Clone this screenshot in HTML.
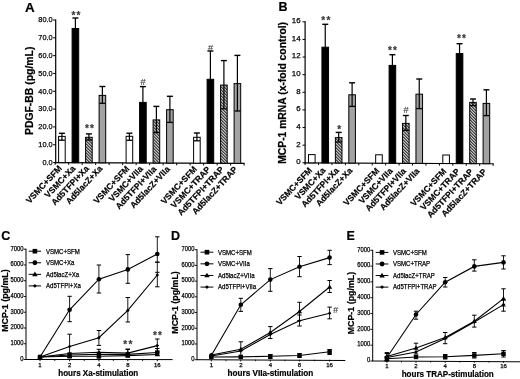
<!DOCTYPE html><html><head><meta charset="utf-8"><style>
html,body{margin:0;padding:0;background:#fff;width:520px;height:379px;overflow:hidden}
svg{display:block;font-family:"Liberation Sans", sans-serif;filter:blur(0.3px)}
text{stroke:#000;stroke-width:0.25px}
text[font-weight=bold]{stroke-width:0.2px}
</style></head><body>
<svg width="520" height="379" viewBox="0 0 520 379">
<defs>
<pattern id="hatch" patternUnits="userSpaceOnUse" width="2.12132" height="2.12132" patternTransform="rotate(45)">
<rect width="2.12132" height="2.12132" fill="#fff"/><rect x="0" y="0" width="2.12132" height="1.05" fill="#000"/>
</pattern>
</defs>
<rect width="520" height="379" fill="#fff"/>
<line x1="55.70" y1="19.40" x2="55.70" y2="163.20" stroke="#000" stroke-width="1.2"/>
<line x1="55.10" y1="162.60" x2="244.65" y2="163.36" stroke="#000" stroke-width="1.2"/>
<line x1="55.15" y1="162.60" x2="55.15" y2="164.80" stroke="#000" stroke-width="1"/>
<line x1="68.65" y1="162.65" x2="68.65" y2="164.85" stroke="#000" stroke-width="1"/>
<line x1="82.15" y1="162.71" x2="82.15" y2="164.91" stroke="#000" stroke-width="1"/>
<line x1="95.65" y1="162.76" x2="95.65" y2="164.96" stroke="#000" stroke-width="1"/>
<line x1="109.15" y1="162.82" x2="109.15" y2="165.02" stroke="#000" stroke-width="1"/>
<line x1="122.65" y1="162.87" x2="122.65" y2="165.07" stroke="#000" stroke-width="1"/>
<line x1="136.15" y1="162.92" x2="136.15" y2="165.12" stroke="#000" stroke-width="1"/>
<line x1="149.65" y1="162.98" x2="149.65" y2="165.18" stroke="#000" stroke-width="1"/>
<line x1="163.15" y1="163.03" x2="163.15" y2="165.23" stroke="#000" stroke-width="1"/>
<line x1="176.65" y1="163.09" x2="176.65" y2="165.29" stroke="#000" stroke-width="1"/>
<line x1="190.15" y1="163.14" x2="190.15" y2="165.34" stroke="#000" stroke-width="1"/>
<line x1="203.65" y1="163.19" x2="203.65" y2="165.39" stroke="#000" stroke-width="1"/>
<line x1="217.15" y1="163.25" x2="217.15" y2="165.45" stroke="#000" stroke-width="1"/>
<line x1="230.65" y1="163.30" x2="230.65" y2="165.50" stroke="#000" stroke-width="1"/>
<line x1="244.15" y1="163.36" x2="244.15" y2="165.56" stroke="#000" stroke-width="1"/>
<line x1="53.10" y1="162.60" x2="55.70" y2="162.60" stroke="#000" stroke-width="1"/>
<text x="52.60" y="164.95" font-size="8.0" text-anchor="end" textLength="10.21" lengthAdjust="spacingAndGlyphs">0.0</text>
<line x1="53.10" y1="144.78" x2="55.70" y2="144.78" stroke="#000" stroke-width="1"/>
<text x="52.60" y="147.12" font-size="8.0" text-anchor="end" textLength="14.30" lengthAdjust="spacingAndGlyphs">10.0</text>
<line x1="53.10" y1="126.95" x2="55.70" y2="126.95" stroke="#000" stroke-width="1"/>
<text x="52.60" y="129.30" font-size="8.0" text-anchor="end" textLength="14.30" lengthAdjust="spacingAndGlyphs">20.0</text>
<line x1="53.10" y1="109.12" x2="55.70" y2="109.12" stroke="#000" stroke-width="1"/>
<text x="52.60" y="111.47" font-size="8.0" text-anchor="end" textLength="14.30" lengthAdjust="spacingAndGlyphs">30.0</text>
<line x1="53.10" y1="91.30" x2="55.70" y2="91.30" stroke="#000" stroke-width="1"/>
<text x="52.60" y="93.65" font-size="8.0" text-anchor="end" textLength="14.30" lengthAdjust="spacingAndGlyphs">40.0</text>
<line x1="53.10" y1="73.47" x2="55.70" y2="73.47" stroke="#000" stroke-width="1"/>
<text x="52.60" y="75.82" font-size="8.0" text-anchor="end" textLength="14.30" lengthAdjust="spacingAndGlyphs">50.0</text>
<line x1="53.10" y1="55.65" x2="55.70" y2="55.65" stroke="#000" stroke-width="1"/>
<text x="52.60" y="58.00" font-size="8.0" text-anchor="end" textLength="14.30" lengthAdjust="spacingAndGlyphs">60.0</text>
<line x1="53.10" y1="37.83" x2="55.70" y2="37.83" stroke="#000" stroke-width="1"/>
<text x="52.60" y="40.18" font-size="8.0" text-anchor="end" textLength="14.30" lengthAdjust="spacingAndGlyphs">70.0</text>
<line x1="53.10" y1="20.00" x2="55.70" y2="20.00" stroke="#000" stroke-width="1"/>
<text x="52.60" y="22.35" font-size="8.0" text-anchor="end" textLength="14.30" lengthAdjust="spacingAndGlyphs">80.0</text>
<rect x="58.60" y="136.40" width="6.60" height="26.23" fill="#fff" stroke="#000" stroke-width="1"/>
<line x1="61.90" y1="133.30" x2="61.90" y2="140.20" stroke="#000" stroke-width="1.2"/>
<line x1="58.90" y1="133.30" x2="64.90" y2="133.30" stroke="#000" stroke-width="1.4"/>
<line x1="58.90" y1="140.20" x2="64.90" y2="140.20" stroke="#000" stroke-width="1.3"/>
<text transform="translate(62.40,168.82) rotate(-47)" font-size="8.6" text-anchor="end" font-weight="bold">VSMC+SFM</text>
<rect x="72.10" y="28.50" width="6.60" height="134.18" fill="#000" stroke="#000" stroke-width="1"/>
<line x1="75.40" y1="18.00" x2="75.40" y2="38.40" stroke="#000" stroke-width="1.2"/>
<line x1="72.40" y1="18.00" x2="78.40" y2="18.00" stroke="#000" stroke-width="1.4"/>
<line x1="72.40" y1="38.40" x2="78.40" y2="38.40" stroke="#000" stroke-width="1.3"/>
<text x="73.45" y="18.60" font-size="10" font-weight="bold" text-anchor="middle" fill="#3a3a3a" style="stroke:#3a3a3a;stroke-width:0.2px">*</text>
<text x="78.55" y="18.60" font-size="10" font-weight="bold" text-anchor="middle" fill="#3a3a3a" style="stroke:#3a3a3a;stroke-width:0.2px">*</text>
<text transform="translate(75.90,168.90) rotate(-47)" font-size="8.6" text-anchor="end" font-weight="bold">VSMC+Xa</text>
<rect x="85.60" y="137.30" width="6.60" height="25.43" fill="url(#hatch)" stroke="#000" stroke-width="1"/>
<line x1="88.90" y1="133.90" x2="88.90" y2="140.00" stroke="#000" stroke-width="1.2"/>
<line x1="85.90" y1="133.90" x2="91.90" y2="133.90" stroke="#000" stroke-width="1.4"/>
<line x1="85.90" y1="140.00" x2="91.90" y2="140.00" stroke="#000" stroke-width="1.3"/>
<text x="86.95" y="132.40" font-size="10" font-weight="bold" text-anchor="middle" fill="#3a3a3a" style="stroke:#3a3a3a;stroke-width:0.2px">*</text>
<text x="92.05" y="132.40" font-size="10" font-weight="bold" text-anchor="middle" fill="#3a3a3a" style="stroke:#3a3a3a;stroke-width:0.2px">*</text>
<text transform="translate(89.40,168.98) rotate(-47)" font-size="8.6" text-anchor="end" font-weight="bold">Ad5TFPI+Xa</text>
<rect x="99.10" y="95.40" width="6.60" height="67.39" fill="#a3a3a3" stroke="#000" stroke-width="1"/>
<line x1="102.40" y1="86.50" x2="102.40" y2="103.30" stroke="#000" stroke-width="1.2"/>
<line x1="99.40" y1="86.50" x2="105.40" y2="86.50" stroke="#000" stroke-width="1.4"/>
<line x1="99.40" y1="103.30" x2="105.40" y2="103.30" stroke="#000" stroke-width="1.3"/>
<text transform="translate(102.90,169.06) rotate(-47)" font-size="8.6" text-anchor="end" font-weight="bold">Ad5lacZ+Xa</text>
<rect x="126.10" y="136.30" width="6.60" height="26.60" fill="#fff" stroke="#000" stroke-width="1"/>
<line x1="129.40" y1="133.20" x2="129.40" y2="140.30" stroke="#000" stroke-width="1.2"/>
<line x1="126.40" y1="133.20" x2="132.40" y2="133.20" stroke="#000" stroke-width="1.4"/>
<line x1="126.40" y1="140.30" x2="132.40" y2="140.30" stroke="#000" stroke-width="1.3"/>
<text transform="translate(129.90,169.23) rotate(-47)" font-size="8.6" text-anchor="end" font-weight="bold">VSMC+SFM</text>
<rect x="139.60" y="102.40" width="6.60" height="60.55" fill="#000" stroke="#000" stroke-width="1"/>
<line x1="142.90" y1="86.60" x2="142.90" y2="117.40" stroke="#000" stroke-width="1.2"/>
<line x1="139.90" y1="86.60" x2="145.90" y2="86.60" stroke="#000" stroke-width="1.4"/>
<line x1="139.90" y1="117.40" x2="145.90" y2="117.40" stroke="#000" stroke-width="1.3"/>
<text x="142.90" y="85.20" font-size="9.5" text-anchor="middle" fill="#444" font-style="italic" style="stroke:#444;stroke-width:0.15px">#</text>
<text transform="translate(143.40,169.31) rotate(-47)" font-size="8.6" text-anchor="end" font-weight="bold">VSMC+VIIa</text>
<rect x="153.10" y="119.90" width="6.60" height="43.10" fill="url(#hatch)" stroke="#000" stroke-width="1"/>
<line x1="156.40" y1="106.40" x2="156.40" y2="132.60" stroke="#000" stroke-width="1.2"/>
<line x1="153.40" y1="106.40" x2="159.40" y2="106.40" stroke="#000" stroke-width="1.4"/>
<line x1="153.40" y1="132.60" x2="159.40" y2="132.60" stroke="#000" stroke-width="1.3"/>
<text transform="translate(156.90,169.39) rotate(-47)" font-size="8.6" text-anchor="end" font-weight="bold">Ad5TFPI+VIIa</text>
<rect x="166.60" y="109.70" width="6.60" height="53.36" fill="#a3a3a3" stroke="#000" stroke-width="1"/>
<line x1="169.90" y1="96.30" x2="169.90" y2="122.40" stroke="#000" stroke-width="1.2"/>
<line x1="166.90" y1="96.30" x2="172.90" y2="96.30" stroke="#000" stroke-width="1.4"/>
<line x1="166.90" y1="122.40" x2="172.90" y2="122.40" stroke="#000" stroke-width="1.3"/>
<text transform="translate(170.40,169.47) rotate(-47)" font-size="8.6" text-anchor="end" font-weight="bold">Ad5lacZ+VIIa</text>
<rect x="193.60" y="137.30" width="6.60" height="25.87" fill="#fff" stroke="#000" stroke-width="1"/>
<line x1="196.90" y1="133.00" x2="196.90" y2="140.80" stroke="#000" stroke-width="1.2"/>
<line x1="193.90" y1="133.00" x2="199.90" y2="133.00" stroke="#000" stroke-width="1.4"/>
<line x1="193.90" y1="140.80" x2="199.90" y2="140.80" stroke="#000" stroke-width="1.3"/>
<text transform="translate(197.40,169.63) rotate(-47)" font-size="8.6" text-anchor="end" font-weight="bold">VSMC+SFM</text>
<rect x="207.10" y="79.30" width="6.60" height="83.92" fill="#000" stroke="#000" stroke-width="1"/>
<line x1="210.40" y1="51.00" x2="210.40" y2="106.70" stroke="#000" stroke-width="1.2"/>
<line x1="207.40" y1="51.00" x2="213.40" y2="51.00" stroke="#000" stroke-width="1.4"/>
<line x1="207.40" y1="106.70" x2="213.40" y2="106.70" stroke="#000" stroke-width="1.3"/>
<text x="210.40" y="50.60" font-size="9.5" text-anchor="middle" fill="#444" font-style="italic" style="stroke:#444;stroke-width:0.15px">#</text>
<text transform="translate(210.90,169.71) rotate(-47)" font-size="8.6" text-anchor="end" font-weight="bold">VSMC+TRAP</text>
<rect x="220.60" y="85.10" width="6.60" height="78.17" fill="url(#hatch)" stroke="#000" stroke-width="1"/>
<line x1="223.90" y1="60.60" x2="223.90" y2="108.80" stroke="#000" stroke-width="1.2"/>
<line x1="220.90" y1="60.60" x2="226.90" y2="60.60" stroke="#000" stroke-width="1.4"/>
<line x1="220.90" y1="108.80" x2="226.90" y2="108.80" stroke="#000" stroke-width="1.3"/>
<text transform="translate(224.40,169.79) rotate(-47)" font-size="8.6" text-anchor="end" font-weight="bold">Ad5TFPI+TRAP</text>
<rect x="234.10" y="83.60" width="6.60" height="79.73" fill="#a3a3a3" stroke="#000" stroke-width="1"/>
<line x1="237.40" y1="55.40" x2="237.40" y2="111.00" stroke="#000" stroke-width="1.2"/>
<line x1="234.40" y1="55.40" x2="240.40" y2="55.40" stroke="#000" stroke-width="1.4"/>
<line x1="234.40" y1="111.00" x2="240.40" y2="111.00" stroke="#000" stroke-width="1.3"/>
<text transform="translate(237.90,169.87) rotate(-47)" font-size="8.6" text-anchor="end" font-weight="bold">Ad5lacZ+TRAP</text>
<text transform="translate(33.00,90.80) rotate(-90)" font-size="10.3" font-weight="bold" text-anchor="middle" textLength="88.5" lengthAdjust="spacingAndGlyphs">PDGF-BB (pg/mL)</text>
<text x="25.00" y="11.90" font-size="13.4" font-weight="bold">A</text>
<line x1="305.10" y1="21.20" x2="305.10" y2="163.40" stroke="#000" stroke-width="1.2"/>
<line x1="304.50" y1="162.80" x2="493.62" y2="163.74" stroke="#000" stroke-width="1.2"/>
<line x1="305.10" y1="162.80" x2="305.10" y2="165.00" stroke="#000" stroke-width="1"/>
<line x1="318.53" y1="162.87" x2="318.53" y2="165.07" stroke="#000" stroke-width="1"/>
<line x1="331.96" y1="162.93" x2="331.96" y2="165.13" stroke="#000" stroke-width="1"/>
<line x1="345.39" y1="163.00" x2="345.39" y2="165.20" stroke="#000" stroke-width="1"/>
<line x1="358.82" y1="163.07" x2="358.82" y2="165.27" stroke="#000" stroke-width="1"/>
<line x1="372.25" y1="163.14" x2="372.25" y2="165.34" stroke="#000" stroke-width="1"/>
<line x1="385.68" y1="163.20" x2="385.68" y2="165.40" stroke="#000" stroke-width="1"/>
<line x1="399.11" y1="163.27" x2="399.11" y2="165.47" stroke="#000" stroke-width="1"/>
<line x1="412.54" y1="163.34" x2="412.54" y2="165.54" stroke="#000" stroke-width="1"/>
<line x1="425.97" y1="163.40" x2="425.97" y2="165.60" stroke="#000" stroke-width="1"/>
<line x1="439.40" y1="163.47" x2="439.40" y2="165.67" stroke="#000" stroke-width="1"/>
<line x1="452.83" y1="163.54" x2="452.83" y2="165.74" stroke="#000" stroke-width="1"/>
<line x1="466.26" y1="163.61" x2="466.26" y2="165.81" stroke="#000" stroke-width="1"/>
<line x1="479.69" y1="163.67" x2="479.69" y2="165.87" stroke="#000" stroke-width="1"/>
<line x1="493.12" y1="163.74" x2="493.12" y2="165.94" stroke="#000" stroke-width="1"/>
<line x1="302.50" y1="162.80" x2="305.10" y2="162.80" stroke="#000" stroke-width="1"/>
<text x="300.60" y="164.20" font-size="7.9" text-anchor="end">0</text>
<line x1="302.50" y1="145.18" x2="305.10" y2="145.18" stroke="#000" stroke-width="1"/>
<text x="300.60" y="146.58" font-size="7.9" text-anchor="end">2</text>
<line x1="302.50" y1="127.55" x2="305.10" y2="127.55" stroke="#000" stroke-width="1"/>
<text x="300.60" y="128.95" font-size="7.9" text-anchor="end">4</text>
<line x1="302.50" y1="109.93" x2="305.10" y2="109.93" stroke="#000" stroke-width="1"/>
<text x="300.60" y="111.33" font-size="7.9" text-anchor="end">6</text>
<line x1="302.50" y1="92.30" x2="305.10" y2="92.30" stroke="#000" stroke-width="1"/>
<text x="300.60" y="93.70" font-size="7.9" text-anchor="end">8</text>
<line x1="302.50" y1="74.68" x2="305.10" y2="74.68" stroke="#000" stroke-width="1"/>
<text x="300.60" y="76.08" font-size="7.9" text-anchor="end">10</text>
<line x1="302.50" y1="57.05" x2="305.10" y2="57.05" stroke="#000" stroke-width="1"/>
<text x="300.60" y="58.45" font-size="7.9" text-anchor="end">12</text>
<line x1="302.50" y1="39.43" x2="305.10" y2="39.43" stroke="#000" stroke-width="1"/>
<text x="300.60" y="40.83" font-size="7.9" text-anchor="end">14</text>
<line x1="302.50" y1="21.80" x2="305.10" y2="21.80" stroke="#000" stroke-width="1"/>
<text x="300.60" y="23.20" font-size="7.9" text-anchor="end">16</text>
<rect x="308.51" y="154.60" width="6.60" height="8.23" fill="#fff" stroke="#000" stroke-width="1"/>
<text transform="translate(312.62,170.69) rotate(-47)" font-size="8.6" text-anchor="end" font-weight="bold">VSMC+SFM</text>
<rect x="321.94" y="47.20" width="6.60" height="115.70" fill="#000" stroke="#000" stroke-width="1"/>
<line x1="325.25" y1="24.30" x2="325.25" y2="69.30" stroke="#000" stroke-width="1.2"/>
<line x1="322.25" y1="24.30" x2="328.25" y2="24.30" stroke="#000" stroke-width="1.4"/>
<line x1="322.25" y1="69.30" x2="328.25" y2="69.30" stroke="#000" stroke-width="1.3"/>
<text x="323.30" y="24.30" font-size="10" font-weight="bold" text-anchor="middle" fill="#3a3a3a" style="stroke:#3a3a3a;stroke-width:0.2px">*</text>
<text x="328.40" y="24.30" font-size="10" font-weight="bold" text-anchor="middle" fill="#3a3a3a" style="stroke:#3a3a3a;stroke-width:0.2px">*</text>
<text transform="translate(326.05,170.80) rotate(-47)" font-size="8.6" text-anchor="end" font-weight="bold">VSMC+Xa</text>
<rect x="335.38" y="137.60" width="6.60" height="25.37" fill="url(#hatch)" stroke="#000" stroke-width="1"/>
<line x1="338.68" y1="132.40" x2="338.68" y2="142.00" stroke="#000" stroke-width="1.2"/>
<line x1="335.68" y1="132.40" x2="341.68" y2="132.40" stroke="#000" stroke-width="1.4"/>
<line x1="335.68" y1="142.00" x2="341.68" y2="142.00" stroke="#000" stroke-width="1.3"/>
<text x="339.28" y="133.30" font-size="10" font-weight="bold" text-anchor="middle" fill="#3a3a3a" style="stroke:#3a3a3a;stroke-width:0.2px">*</text>
<text transform="translate(339.48,170.91) rotate(-47)" font-size="8.6" text-anchor="end" font-weight="bold">Ad5TFPI+Xa</text>
<rect x="348.81" y="94.80" width="6.60" height="68.24" fill="#a3a3a3" stroke="#000" stroke-width="1"/>
<line x1="352.11" y1="82.80" x2="352.11" y2="106.40" stroke="#000" stroke-width="1.2"/>
<line x1="349.11" y1="82.80" x2="355.11" y2="82.80" stroke="#000" stroke-width="1.4"/>
<line x1="349.11" y1="106.40" x2="355.11" y2="106.40" stroke="#000" stroke-width="1.3"/>
<text transform="translate(352.91,171.02) rotate(-47)" font-size="8.6" text-anchor="end" font-weight="bold">Ad5lacZ+Xa</text>
<rect x="375.67" y="154.80" width="6.60" height="8.37" fill="#fff" stroke="#000" stroke-width="1"/>
<text transform="translate(379.77,171.23) rotate(-47)" font-size="8.6" text-anchor="end" font-weight="bold">VSMC+SFM</text>
<rect x="389.10" y="65.40" width="6.60" height="97.84" fill="#000" stroke="#000" stroke-width="1"/>
<line x1="392.40" y1="54.70" x2="392.40" y2="75.30" stroke="#000" stroke-width="1.2"/>
<line x1="389.40" y1="54.70" x2="395.40" y2="54.70" stroke="#000" stroke-width="1.4"/>
<line x1="389.40" y1="75.30" x2="395.40" y2="75.30" stroke="#000" stroke-width="1.3"/>
<text x="389.85" y="53.60" font-size="10" font-weight="bold" text-anchor="middle" fill="#3a3a3a" style="stroke:#3a3a3a;stroke-width:0.2px">*</text>
<text x="394.95" y="53.60" font-size="10" font-weight="bold" text-anchor="middle" fill="#3a3a3a" style="stroke:#3a3a3a;stroke-width:0.2px">*</text>
<text transform="translate(393.20,171.34) rotate(-47)" font-size="8.6" text-anchor="end" font-weight="bold">VSMC+VIIa</text>
<rect x="402.53" y="123.40" width="6.60" height="39.90" fill="url(#hatch)" stroke="#000" stroke-width="1"/>
<line x1="405.83" y1="115.50" x2="405.83" y2="130.40" stroke="#000" stroke-width="1.2"/>
<line x1="402.83" y1="115.50" x2="408.83" y2="115.50" stroke="#000" stroke-width="1.4"/>
<line x1="402.83" y1="130.40" x2="408.83" y2="130.40" stroke="#000" stroke-width="1.3"/>
<text x="405.83" y="113.00" font-size="9.5" text-anchor="middle" fill="#444" font-style="italic" style="stroke:#444;stroke-width:0.15px">#</text>
<text transform="translate(406.63,171.45) rotate(-47)" font-size="8.6" text-anchor="end" font-weight="bold">Ad5TFPI+VIIa</text>
<rect x="415.95" y="94.20" width="6.60" height="69.17" fill="#a3a3a3" stroke="#000" stroke-width="1"/>
<line x1="419.25" y1="79.00" x2="419.25" y2="108.60" stroke="#000" stroke-width="1.2"/>
<line x1="416.25" y1="79.00" x2="422.25" y2="79.00" stroke="#000" stroke-width="1.4"/>
<line x1="416.25" y1="108.60" x2="422.25" y2="108.60" stroke="#000" stroke-width="1.3"/>
<text transform="translate(420.06,171.55) rotate(-47)" font-size="8.6" text-anchor="end" font-weight="bold">Ad5lacZ+VIIa</text>
<rect x="442.81" y="155.00" width="6.60" height="8.51" fill="#fff" stroke="#000" stroke-width="1"/>
<text transform="translate(446.92,171.77) rotate(-47)" font-size="8.6" text-anchor="end" font-weight="bold">VSMC+SFM</text>
<rect x="456.25" y="53.60" width="6.60" height="109.97" fill="#000" stroke="#000" stroke-width="1"/>
<line x1="459.55" y1="43.70" x2="459.55" y2="62.70" stroke="#000" stroke-width="1.2"/>
<line x1="456.55" y1="43.70" x2="462.55" y2="43.70" stroke="#000" stroke-width="1.4"/>
<line x1="456.55" y1="62.70" x2="462.55" y2="62.70" stroke="#000" stroke-width="1.3"/>
<text x="458.89" y="42.40" font-size="10" font-weight="bold" text-anchor="middle" fill="#3a3a3a" style="stroke:#3a3a3a;stroke-width:0.2px">*</text>
<text x="464.00" y="42.40" font-size="10" font-weight="bold" text-anchor="middle" fill="#3a3a3a" style="stroke:#3a3a3a;stroke-width:0.2px">*</text>
<text transform="translate(460.35,171.88) rotate(-47)" font-size="8.6" text-anchor="end" font-weight="bold">VSMC+TRAP</text>
<rect x="469.68" y="102.40" width="6.60" height="61.24" fill="url(#hatch)" stroke="#000" stroke-width="1"/>
<line x1="472.98" y1="99.00" x2="472.98" y2="105.60" stroke="#000" stroke-width="1.2"/>
<line x1="469.98" y1="99.00" x2="475.98" y2="99.00" stroke="#000" stroke-width="1.4"/>
<line x1="469.98" y1="105.60" x2="475.98" y2="105.60" stroke="#000" stroke-width="1.3"/>
<text transform="translate(473.78,171.98) rotate(-47)" font-size="8.6" text-anchor="end" font-weight="bold">Ad5TFPI+TRAP</text>
<rect x="483.11" y="103.40" width="6.60" height="60.31" fill="#a3a3a3" stroke="#000" stroke-width="1"/>
<line x1="486.41" y1="89.80" x2="486.41" y2="115.60" stroke="#000" stroke-width="1.2"/>
<line x1="483.41" y1="89.80" x2="489.41" y2="89.80" stroke="#000" stroke-width="1.4"/>
<line x1="483.41" y1="115.60" x2="489.41" y2="115.60" stroke="#000" stroke-width="1.3"/>
<text transform="translate(487.21,172.09) rotate(-47)" font-size="8.6" text-anchor="end" font-weight="bold">Ad5lacZ+TRAP</text>
<text transform="translate(286.30,92.90) rotate(-90)" font-size="10.4" font-weight="bold" text-anchor="middle" textLength="141.8" lengthAdjust="spacingAndGlyphs">MCP-1 mRNA (x-fold control)</text>
<text x="278.40" y="10.70" font-size="12.5" font-weight="bold">B</text>
<line x1="26.00" y1="248.70" x2="26.00" y2="360.00" stroke="#000" stroke-width="1"/>
<line x1="26.00" y1="359.50" x2="172.60" y2="359.60" stroke="#000" stroke-width="1"/>
<line x1="23.60" y1="359.50" x2="26.00" y2="359.50" stroke="#000" stroke-width="0.9"/>
<text x="23.60" y="360.80" font-size="7.0" text-anchor="end" textLength="3.25" lengthAdjust="spacingAndGlyphs">0</text>
<line x1="23.60" y1="343.74" x2="26.00" y2="343.74" stroke="#000" stroke-width="0.9"/>
<text x="23.60" y="345.04" font-size="7.0" text-anchor="end" textLength="13.00" lengthAdjust="spacingAndGlyphs">1000</text>
<line x1="23.60" y1="327.99" x2="26.00" y2="327.99" stroke="#000" stroke-width="0.9"/>
<text x="23.60" y="329.29" font-size="7.0" text-anchor="end" textLength="13.00" lengthAdjust="spacingAndGlyphs">2000</text>
<line x1="23.60" y1="312.23" x2="26.00" y2="312.23" stroke="#000" stroke-width="0.9"/>
<text x="23.60" y="313.53" font-size="7.0" text-anchor="end" textLength="13.00" lengthAdjust="spacingAndGlyphs">3000</text>
<line x1="23.60" y1="296.47" x2="26.00" y2="296.47" stroke="#000" stroke-width="0.9"/>
<text x="23.60" y="297.77" font-size="7.0" text-anchor="end" textLength="13.00" lengthAdjust="spacingAndGlyphs">4000</text>
<line x1="23.60" y1="280.71" x2="26.00" y2="280.71" stroke="#000" stroke-width="0.9"/>
<text x="23.60" y="282.01" font-size="7.0" text-anchor="end" textLength="13.00" lengthAdjust="spacingAndGlyphs">5000</text>
<line x1="23.60" y1="264.96" x2="26.00" y2="264.96" stroke="#000" stroke-width="0.9"/>
<text x="23.60" y="266.26" font-size="7.0" text-anchor="end" textLength="13.00" lengthAdjust="spacingAndGlyphs">6000</text>
<line x1="23.60" y1="249.20" x2="26.00" y2="249.20" stroke="#000" stroke-width="0.9"/>
<text x="23.60" y="250.50" font-size="7.0" text-anchor="end" textLength="13.00" lengthAdjust="spacingAndGlyphs">7000</text>
<line x1="40.00" y1="359.50" x2="40.00" y2="361.30" stroke="#000" stroke-width="0.9"/>
<text x="40.00" y="367.40" font-size="6.0" text-anchor="middle">1</text>
<line x1="69.60" y1="359.50" x2="69.60" y2="361.30" stroke="#000" stroke-width="0.9"/>
<text x="69.60" y="367.40" font-size="6.0" text-anchor="middle">2</text>
<line x1="98.90" y1="359.50" x2="98.90" y2="361.30" stroke="#000" stroke-width="0.9"/>
<text x="98.90" y="367.40" font-size="6.0" text-anchor="middle">4</text>
<line x1="127.80" y1="359.50" x2="127.80" y2="361.30" stroke="#000" stroke-width="0.9"/>
<text x="127.80" y="367.40" font-size="6.0" text-anchor="middle">8</text>
<line x1="157.30" y1="359.50" x2="157.30" y2="361.30" stroke="#000" stroke-width="0.9"/>
<text x="157.30" y="367.40" font-size="6.0" text-anchor="middle">16</text>
<line x1="54.80" y1="359.50" x2="54.80" y2="361.00" stroke="#000" stroke-width="0.8"/>
<line x1="84.25" y1="359.50" x2="84.25" y2="361.00" stroke="#000" stroke-width="0.8"/>
<line x1="113.35" y1="359.50" x2="113.35" y2="361.00" stroke="#000" stroke-width="0.8"/>
<line x1="142.55" y1="359.50" x2="142.55" y2="361.00" stroke="#000" stroke-width="0.8"/>
<text x="58.30" y="375.80" font-size="8.8" font-weight="bold" textLength="80.00" lengthAdjust="spacingAndGlyphs">hours Xa-stimulation</text>
<text transform="translate(7.60,300.60) rotate(-90)" font-size="8.8" font-weight="bold" text-anchor="middle" textLength="62.4" lengthAdjust="spacingAndGlyphs">MCP-1 (pg/mL)</text>
<text x="1.20" y="239.80" font-size="12.5" font-weight="bold">C</text>
<polyline points="40.00,357.00 69.60,355.00 98.90,354.20 127.80,354.40 157.30,352.50" fill="none" stroke="#000" stroke-width="1.1"/>
<line x1="69.60" y1="353.00" x2="69.60" y2="357.50" stroke="#000" stroke-width="0.9"/>
<line x1="67.40" y1="353.00" x2="71.80" y2="353.00" stroke="#000" stroke-width="1"/>
<line x1="67.40" y1="357.50" x2="71.80" y2="357.50" stroke="#000" stroke-width="1"/>
<line x1="98.90" y1="349.30" x2="98.90" y2="358.20" stroke="#000" stroke-width="0.9"/>
<line x1="96.70" y1="349.30" x2="101.10" y2="349.30" stroke="#000" stroke-width="1"/>
<line x1="96.70" y1="358.20" x2="101.10" y2="358.20" stroke="#000" stroke-width="1"/>
<line x1="127.80" y1="349.00" x2="127.80" y2="357.20" stroke="#000" stroke-width="0.9"/>
<line x1="125.60" y1="349.00" x2="130.00" y2="349.00" stroke="#000" stroke-width="1"/>
<line x1="125.60" y1="357.20" x2="130.00" y2="357.20" stroke="#000" stroke-width="1"/>
<line x1="157.30" y1="348.50" x2="157.30" y2="355.50" stroke="#000" stroke-width="0.9"/>
<line x1="155.10" y1="348.50" x2="159.50" y2="348.50" stroke="#000" stroke-width="1"/>
<line x1="155.10" y1="355.50" x2="159.50" y2="355.50" stroke="#000" stroke-width="1"/>
<rect x="37.80" y="354.80" width="4.40" height="4.40" fill="#000"/>
<rect x="67.40" y="352.80" width="4.40" height="4.40" fill="#000"/>
<rect x="96.70" y="352.00" width="4.40" height="4.40" fill="#000"/>
<rect x="125.60" y="352.20" width="4.40" height="4.40" fill="#000"/>
<rect x="155.10" y="350.30" width="4.40" height="4.40" fill="#000"/>
<polyline points="40.00,357.00 69.60,309.80 98.90,279.20 127.80,269.40 157.30,254.00" fill="none" stroke="#000" stroke-width="1.1"/>
<line x1="69.60" y1="296.30" x2="69.60" y2="321.70" stroke="#000" stroke-width="0.9"/>
<line x1="67.40" y1="296.30" x2="71.80" y2="296.30" stroke="#000" stroke-width="1"/>
<line x1="67.40" y1="321.70" x2="71.80" y2="321.70" stroke="#000" stroke-width="1"/>
<line x1="98.90" y1="265.00" x2="98.90" y2="293.00" stroke="#000" stroke-width="0.9"/>
<line x1="96.70" y1="265.00" x2="101.10" y2="265.00" stroke="#000" stroke-width="1"/>
<line x1="96.70" y1="293.00" x2="101.10" y2="293.00" stroke="#000" stroke-width="1"/>
<line x1="127.80" y1="254.60" x2="127.80" y2="283.30" stroke="#000" stroke-width="0.9"/>
<line x1="125.60" y1="254.60" x2="130.00" y2="254.60" stroke="#000" stroke-width="1"/>
<line x1="125.60" y1="283.30" x2="130.00" y2="283.30" stroke="#000" stroke-width="1"/>
<line x1="157.30" y1="236.80" x2="157.30" y2="262.20" stroke="#000" stroke-width="0.9"/>
<line x1="155.10" y1="236.80" x2="159.50" y2="236.80" stroke="#000" stroke-width="1"/>
<line x1="155.10" y1="262.20" x2="159.50" y2="262.20" stroke="#000" stroke-width="1"/>
<circle cx="40.00" cy="357.00" r="2.30" fill="#000"/>
<circle cx="69.60" cy="309.80" r="2.30" fill="#000"/>
<circle cx="98.90" cy="279.20" r="2.30" fill="#000"/>
<circle cx="127.80" cy="269.40" r="2.30" fill="#000"/>
<circle cx="157.30" cy="254.00" r="2.30" fill="#000"/>
<polyline points="40.00,357.00 69.60,356.20 98.90,356.20 127.80,355.60 157.30,354.50" fill="none" stroke="#000" stroke-width="1.1"/>
<path d="M40.00,354.40 L42.60,358.80 L37.40,358.80Z" fill="#000"/>
<path d="M69.60,353.60 L72.20,358.00 L67.00,358.00Z" fill="#000"/>
<path d="M98.90,353.60 L101.50,358.00 L96.30,358.00Z" fill="#000"/>
<path d="M127.80,353.00 L130.40,357.40 L125.20,357.40Z" fill="#000"/>
<path d="M157.30,351.90 L159.90,356.30 L154.70,356.30Z" fill="#000"/>
<polyline points="40.00,357.00 69.60,346.50 98.90,337.70 127.80,310.40 157.30,275.00" fill="none" stroke="#000" stroke-width="1.1"/>
<line x1="69.60" y1="334.20" x2="69.60" y2="358.00" stroke="#000" stroke-width="0.9"/>
<line x1="67.40" y1="334.20" x2="71.80" y2="334.20" stroke="#000" stroke-width="1"/>
<line x1="67.40" y1="358.00" x2="71.80" y2="358.00" stroke="#000" stroke-width="1"/>
<line x1="98.90" y1="330.50" x2="98.90" y2="345.40" stroke="#000" stroke-width="0.9"/>
<line x1="96.70" y1="330.50" x2="101.10" y2="330.50" stroke="#000" stroke-width="1"/>
<line x1="96.70" y1="345.40" x2="101.10" y2="345.40" stroke="#000" stroke-width="1"/>
<line x1="127.80" y1="297.50" x2="127.80" y2="322.00" stroke="#000" stroke-width="0.9"/>
<line x1="125.60" y1="297.50" x2="130.00" y2="297.50" stroke="#000" stroke-width="1"/>
<line x1="125.60" y1="322.00" x2="130.00" y2="322.00" stroke="#000" stroke-width="1"/>
<line x1="157.30" y1="262.20" x2="157.30" y2="286.80" stroke="#000" stroke-width="0.9"/>
<line x1="155.10" y1="262.20" x2="159.50" y2="262.20" stroke="#000" stroke-width="1"/>
<line x1="155.10" y1="286.80" x2="159.50" y2="286.80" stroke="#000" stroke-width="1"/>
<path d="M40.00,355.20 L41.80,357.00 L40.00,358.80 L38.20,357.00Z" fill="#000"/>
<path d="M69.60,344.70 L71.40,346.50 L69.60,348.30 L67.80,346.50Z" fill="#000"/>
<path d="M98.90,335.90 L100.70,337.70 L98.90,339.50 L97.10,337.70Z" fill="#000"/>
<path d="M127.80,308.60 L129.60,310.40 L127.80,312.20 L126.00,310.40Z" fill="#000"/>
<path d="M157.30,273.20 L159.10,275.00 L157.30,276.80 L155.50,275.00Z" fill="#000"/>
<polyline points="40.00,357.00 69.60,353.50 98.90,352.30 127.80,353.10 157.30,345.60" fill="none" stroke="#000" stroke-width="1.1"/>
<line x1="127.80" y1="349.50" x2="127.80" y2="356.00" stroke="#000" stroke-width="0.9"/>
<line x1="125.60" y1="349.50" x2="130.00" y2="349.50" stroke="#000" stroke-width="1"/>
<line x1="125.60" y1="356.00" x2="130.00" y2="356.00" stroke="#000" stroke-width="1"/>
<line x1="157.30" y1="339.00" x2="157.30" y2="352.00" stroke="#000" stroke-width="0.9"/>
<line x1="155.10" y1="339.00" x2="159.50" y2="339.00" stroke="#000" stroke-width="1"/>
<line x1="155.10" y1="352.00" x2="159.50" y2="352.00" stroke="#000" stroke-width="1"/>
<path d="M40.00,355.20 L41.80,357.00 L40.00,358.80 L38.20,357.00Z" fill="#000"/>
<path d="M69.60,351.70 L71.40,353.50 L69.60,355.30 L67.80,353.50Z" fill="#000"/>
<path d="M98.90,350.50 L100.70,352.30 L98.90,354.10 L97.10,352.30Z" fill="#000"/>
<path d="M127.80,351.30 L129.60,353.10 L127.80,354.90 L126.00,353.10Z" fill="#000"/>
<path d="M157.30,343.80 L159.10,345.60 L157.30,347.40 L155.50,345.60Z" fill="#000"/>
<line x1="155.10" y1="272.30" x2="159.50" y2="272.30" stroke="#000" stroke-width="1"/>
<line x1="28.70" y1="251.20" x2="41.10" y2="251.20" stroke="#000" stroke-width="1"/>
<rect x="32.59" y="248.89" width="4.62" height="4.62" fill="#000"/>
<text x="46.00" y="253.50" font-size="7.0" textLength="33.78" lengthAdjust="spacingAndGlyphs">VSMC+SFM</text>
<line x1="28.70" y1="262.77" x2="41.10" y2="262.77" stroke="#000" stroke-width="1"/>
<circle cx="34.90" cy="262.77" r="2.42" fill="#000"/>
<text x="46.00" y="265.07" font-size="7.0" textLength="28.41" lengthAdjust="spacingAndGlyphs">VSMC+Xa</text>
<line x1="28.70" y1="274.34" x2="41.10" y2="274.34" stroke="#000" stroke-width="1"/>
<path d="M34.90,271.61 L37.63,276.23 L32.17,276.23Z" fill="#000"/>
<text x="46.00" y="276.64" font-size="7.0" textLength="33.13" lengthAdjust="spacingAndGlyphs">Ad5lacZ+Xa</text>
<line x1="28.70" y1="285.91" x2="41.10" y2="285.91" stroke="#000" stroke-width="1"/>
<path d="M34.90,284.02 L36.79,285.91 L34.90,287.80 L33.01,285.91Z" fill="#000"/>
<text x="46.00" y="288.21" font-size="7.0" textLength="34.81" lengthAdjust="spacingAndGlyphs">Ad5TFPI+Xa</text>
<text x="125.25" y="347.50" font-size="10" font-weight="bold" text-anchor="middle" fill="#3a3a3a" style="stroke:#3a3a3a;stroke-width:0.2px">*</text>
<text x="130.35" y="347.50" font-size="10" font-weight="bold" text-anchor="middle" fill="#3a3a3a" style="stroke:#3a3a3a;stroke-width:0.2px">*</text>
<text x="154.95" y="339.40" font-size="10" font-weight="bold" text-anchor="middle" fill="#3a3a3a" style="stroke:#3a3a3a;stroke-width:0.2px">*</text>
<text x="160.05" y="339.40" font-size="10" font-weight="bold" text-anchor="middle" fill="#3a3a3a" style="stroke:#3a3a3a;stroke-width:0.2px">*</text>
<line x1="197.00" y1="249.20" x2="197.00" y2="360.20" stroke="#000" stroke-width="1"/>
<line x1="197.00" y1="359.70" x2="345.30" y2="360.50" stroke="#000" stroke-width="1"/>
<line x1="194.60" y1="359.70" x2="197.00" y2="359.70" stroke="#000" stroke-width="0.9"/>
<text x="194.60" y="361.00" font-size="7.0" text-anchor="end" textLength="3.25" lengthAdjust="spacingAndGlyphs">0</text>
<line x1="194.60" y1="343.99" x2="197.00" y2="343.99" stroke="#000" stroke-width="0.9"/>
<text x="194.60" y="345.29" font-size="7.0" text-anchor="end" textLength="13.00" lengthAdjust="spacingAndGlyphs">1000</text>
<line x1="194.60" y1="328.27" x2="197.00" y2="328.27" stroke="#000" stroke-width="0.9"/>
<text x="194.60" y="329.57" font-size="7.0" text-anchor="end" textLength="13.00" lengthAdjust="spacingAndGlyphs">2000</text>
<line x1="194.60" y1="312.56" x2="197.00" y2="312.56" stroke="#000" stroke-width="0.9"/>
<text x="194.60" y="313.86" font-size="7.0" text-anchor="end" textLength="13.00" lengthAdjust="spacingAndGlyphs">3000</text>
<line x1="194.60" y1="296.84" x2="197.00" y2="296.84" stroke="#000" stroke-width="0.9"/>
<text x="194.60" y="298.14" font-size="7.0" text-anchor="end" textLength="13.00" lengthAdjust="spacingAndGlyphs">4000</text>
<line x1="194.60" y1="281.13" x2="197.00" y2="281.13" stroke="#000" stroke-width="0.9"/>
<text x="194.60" y="282.43" font-size="7.0" text-anchor="end" textLength="13.00" lengthAdjust="spacingAndGlyphs">5000</text>
<line x1="194.60" y1="265.41" x2="197.00" y2="265.41" stroke="#000" stroke-width="0.9"/>
<text x="194.60" y="266.71" font-size="7.0" text-anchor="end" textLength="13.00" lengthAdjust="spacingAndGlyphs">6000</text>
<line x1="194.60" y1="249.70" x2="197.00" y2="249.70" stroke="#000" stroke-width="0.9"/>
<text x="194.60" y="251.00" font-size="7.0" text-anchor="end" textLength="13.00" lengthAdjust="spacingAndGlyphs">7000</text>
<line x1="211.30" y1="359.70" x2="211.30" y2="361.50" stroke="#000" stroke-width="0.9"/>
<text x="211.30" y="367.40" font-size="6.0" text-anchor="middle">1</text>
<line x1="240.80" y1="359.70" x2="240.80" y2="361.50" stroke="#000" stroke-width="0.9"/>
<text x="240.80" y="367.40" font-size="6.0" text-anchor="middle">2</text>
<line x1="270.30" y1="359.70" x2="270.30" y2="361.50" stroke="#000" stroke-width="0.9"/>
<text x="270.30" y="367.40" font-size="6.0" text-anchor="middle">4</text>
<line x1="299.50" y1="359.70" x2="299.50" y2="361.50" stroke="#000" stroke-width="0.9"/>
<text x="299.50" y="367.40" font-size="6.0" text-anchor="middle">8</text>
<line x1="329.60" y1="359.70" x2="329.60" y2="361.50" stroke="#000" stroke-width="0.9"/>
<text x="329.60" y="367.40" font-size="6.0" text-anchor="middle">16</text>
<line x1="226.05" y1="359.70" x2="226.05" y2="361.20" stroke="#000" stroke-width="0.8"/>
<line x1="255.55" y1="359.70" x2="255.55" y2="361.20" stroke="#000" stroke-width="0.8"/>
<line x1="284.90" y1="359.70" x2="284.90" y2="361.20" stroke="#000" stroke-width="0.8"/>
<line x1="314.55" y1="359.70" x2="314.55" y2="361.20" stroke="#000" stroke-width="0.8"/>
<text x="227.60" y="376.30" font-size="8.8" font-weight="bold" textLength="85.60" lengthAdjust="spacingAndGlyphs">hours VIIa-stimulation</text>
<text transform="translate(178.30,302.50) rotate(-90)" font-size="8.8" font-weight="bold" text-anchor="middle" textLength="62.5" lengthAdjust="spacingAndGlyphs">MCP-1 (pg/mL)</text>
<text x="171.00" y="239.80" font-size="12.5" font-weight="bold">D</text>
<polyline points="211.30,357.00 240.80,356.90 270.30,356.30 299.50,355.50 329.60,351.80" fill="none" stroke="#000" stroke-width="1.1"/>
<line x1="270.30" y1="354.50" x2="270.30" y2="358.50" stroke="#000" stroke-width="0.9"/>
<line x1="268.10" y1="354.50" x2="272.50" y2="354.50" stroke="#000" stroke-width="1"/>
<line x1="268.10" y1="358.50" x2="272.50" y2="358.50" stroke="#000" stroke-width="1"/>
<line x1="299.50" y1="353.50" x2="299.50" y2="357.50" stroke="#000" stroke-width="0.9"/>
<line x1="297.30" y1="353.50" x2="301.70" y2="353.50" stroke="#000" stroke-width="1"/>
<line x1="297.30" y1="357.50" x2="301.70" y2="357.50" stroke="#000" stroke-width="1"/>
<line x1="329.60" y1="349.50" x2="329.60" y2="354.50" stroke="#000" stroke-width="0.9"/>
<line x1="327.40" y1="349.50" x2="331.80" y2="349.50" stroke="#000" stroke-width="1"/>
<line x1="327.40" y1="354.50" x2="331.80" y2="354.50" stroke="#000" stroke-width="1"/>
<rect x="209.10" y="354.80" width="4.40" height="4.40" fill="#000"/>
<rect x="238.60" y="354.70" width="4.40" height="4.40" fill="#000"/>
<rect x="268.10" y="354.10" width="4.40" height="4.40" fill="#000"/>
<rect x="297.30" y="353.30" width="4.40" height="4.40" fill="#000"/>
<rect x="327.40" y="349.60" width="4.40" height="4.40" fill="#000"/>
<polyline points="211.30,355.50 240.80,304.80 270.30,279.60 299.50,266.80 329.60,257.60" fill="none" stroke="#000" stroke-width="1.1"/>
<line x1="240.80" y1="298.30" x2="240.80" y2="311.40" stroke="#000" stroke-width="0.9"/>
<line x1="238.60" y1="298.30" x2="243.00" y2="298.30" stroke="#000" stroke-width="1"/>
<line x1="238.60" y1="311.40" x2="243.00" y2="311.40" stroke="#000" stroke-width="1"/>
<line x1="270.30" y1="268.60" x2="270.30" y2="291.30" stroke="#000" stroke-width="0.9"/>
<line x1="268.10" y1="268.60" x2="272.50" y2="268.60" stroke="#000" stroke-width="1"/>
<line x1="268.10" y1="291.30" x2="272.50" y2="291.30" stroke="#000" stroke-width="1"/>
<line x1="299.50" y1="256.50" x2="299.50" y2="276.70" stroke="#000" stroke-width="0.9"/>
<line x1="297.30" y1="256.50" x2="301.70" y2="256.50" stroke="#000" stroke-width="1"/>
<line x1="297.30" y1="276.70" x2="301.70" y2="276.70" stroke="#000" stroke-width="1"/>
<line x1="329.60" y1="250.30" x2="329.60" y2="264.60" stroke="#000" stroke-width="0.9"/>
<line x1="327.40" y1="250.30" x2="331.80" y2="250.30" stroke="#000" stroke-width="1"/>
<line x1="327.40" y1="264.60" x2="331.80" y2="264.60" stroke="#000" stroke-width="1"/>
<circle cx="211.30" cy="355.50" r="2.30" fill="#000"/>
<circle cx="240.80" cy="304.80" r="2.30" fill="#000"/>
<circle cx="270.30" cy="279.60" r="2.30" fill="#000"/>
<circle cx="299.50" cy="266.80" r="2.30" fill="#000"/>
<circle cx="329.60" cy="257.60" r="2.30" fill="#000"/>
<polyline points="211.30,355.00 240.80,349.30 270.30,332.50 299.50,311.50 329.60,287.00" fill="none" stroke="#000" stroke-width="1.1"/>
<line x1="240.80" y1="341.80" x2="240.80" y2="356.00" stroke="#000" stroke-width="0.9"/>
<line x1="238.60" y1="341.80" x2="243.00" y2="341.80" stroke="#000" stroke-width="1"/>
<line x1="238.60" y1="356.00" x2="243.00" y2="356.00" stroke="#000" stroke-width="1"/>
<line x1="270.30" y1="326.60" x2="270.30" y2="338.50" stroke="#000" stroke-width="0.9"/>
<line x1="268.10" y1="326.60" x2="272.50" y2="326.60" stroke="#000" stroke-width="1"/>
<line x1="268.10" y1="338.50" x2="272.50" y2="338.50" stroke="#000" stroke-width="1"/>
<line x1="299.50" y1="302.30" x2="299.50" y2="320.50" stroke="#000" stroke-width="0.9"/>
<line x1="297.30" y1="302.30" x2="301.70" y2="302.30" stroke="#000" stroke-width="1"/>
<line x1="297.30" y1="320.50" x2="301.70" y2="320.50" stroke="#000" stroke-width="1"/>
<line x1="329.60" y1="280.50" x2="329.60" y2="292.50" stroke="#000" stroke-width="0.9"/>
<line x1="327.40" y1="280.50" x2="331.80" y2="280.50" stroke="#000" stroke-width="1"/>
<line x1="327.40" y1="292.50" x2="331.80" y2="292.50" stroke="#000" stroke-width="1"/>
<path d="M211.30,352.40 L213.90,356.80 L208.70,356.80Z" fill="#000"/>
<path d="M240.80,346.70 L243.40,351.10 L238.20,351.10Z" fill="#000"/>
<path d="M270.30,329.90 L272.90,334.30 L267.70,334.30Z" fill="#000"/>
<path d="M299.50,308.90 L302.10,313.30 L296.90,313.30Z" fill="#000"/>
<path d="M329.60,284.40 L332.20,288.80 L327.00,288.80Z" fill="#000"/>
<polyline points="211.30,356.00 240.80,351.00 270.30,334.50 299.50,320.70 329.60,313.30" fill="none" stroke="#000" stroke-width="1.1"/>
<line x1="299.50" y1="315.00" x2="299.50" y2="326.00" stroke="#000" stroke-width="0.9"/>
<line x1="297.30" y1="315.00" x2="301.70" y2="315.00" stroke="#000" stroke-width="1"/>
<line x1="297.30" y1="326.00" x2="301.70" y2="326.00" stroke="#000" stroke-width="1"/>
<line x1="329.60" y1="307.10" x2="329.60" y2="318.80" stroke="#000" stroke-width="0.9"/>
<line x1="327.40" y1="307.10" x2="331.80" y2="307.10" stroke="#000" stroke-width="1"/>
<line x1="327.40" y1="318.80" x2="331.80" y2="318.80" stroke="#000" stroke-width="1"/>
<path d="M211.30,354.20 L213.10,356.00 L211.30,357.80 L209.50,356.00Z" fill="#000"/>
<path d="M240.80,349.20 L242.60,351.00 L240.80,352.80 L239.00,351.00Z" fill="#000"/>
<path d="M270.30,332.70 L272.10,334.50 L270.30,336.30 L268.50,334.50Z" fill="#000"/>
<path d="M299.50,318.90 L301.30,320.70 L299.50,322.50 L297.70,320.70Z" fill="#000"/>
<path d="M329.60,311.50 L331.40,313.30 L329.60,315.10 L327.80,313.30Z" fill="#000"/>
<line x1="200.50" y1="252.20" x2="213.40" y2="252.20" stroke="#000" stroke-width="1"/>
<rect x="204.64" y="249.89" width="4.62" height="4.62" fill="#000"/>
<text x="218.00" y="254.50" font-size="7.0" textLength="33.78" lengthAdjust="spacingAndGlyphs">VSMC+SFM</text>
<line x1="200.50" y1="263.83" x2="213.40" y2="263.83" stroke="#000" stroke-width="1"/>
<circle cx="206.95" cy="263.83" r="2.42" fill="#000"/>
<text x="218.00" y="266.13" font-size="7.0" textLength="31.78" lengthAdjust="spacingAndGlyphs">VSMC+VIIa</text>
<line x1="200.50" y1="275.46" x2="213.40" y2="275.46" stroke="#000" stroke-width="1"/>
<path d="M206.95,272.73 L209.68,277.35 L204.22,277.35Z" fill="#000"/>
<text x="218.00" y="277.76" font-size="7.0" textLength="36.49" lengthAdjust="spacingAndGlyphs">Ad5lacZ+VIIa</text>
<line x1="200.50" y1="287.09" x2="213.40" y2="287.09" stroke="#000" stroke-width="1"/>
<path d="M206.95,285.20 L208.84,287.09 L206.95,288.98 L205.06,287.09Z" fill="#000"/>
<text x="218.00" y="289.39" font-size="7.0" textLength="38.17" lengthAdjust="spacingAndGlyphs">Ad5TFPI+VIIa</text>
<text x="335.60" y="312.50" font-size="9.0" text-anchor="middle" fill="#444" font-style="italic" style="stroke:#444;stroke-width:0.15px">#</text>
<line x1="372.70" y1="249.80" x2="372.70" y2="361.50" stroke="#000" stroke-width="1"/>
<line x1="372.70" y1="361.00" x2="520.00" y2="361.80" stroke="#000" stroke-width="1"/>
<line x1="370.30" y1="361.00" x2="372.70" y2="361.00" stroke="#000" stroke-width="0.9"/>
<text x="370.30" y="362.30" font-size="7.0" text-anchor="end" textLength="3.25" lengthAdjust="spacingAndGlyphs">0</text>
<line x1="370.30" y1="345.19" x2="372.70" y2="345.19" stroke="#000" stroke-width="0.9"/>
<text x="370.30" y="346.49" font-size="7.0" text-anchor="end" textLength="13.00" lengthAdjust="spacingAndGlyphs">1000</text>
<line x1="370.30" y1="329.37" x2="372.70" y2="329.37" stroke="#000" stroke-width="0.9"/>
<text x="370.30" y="330.67" font-size="7.0" text-anchor="end" textLength="13.00" lengthAdjust="spacingAndGlyphs">2000</text>
<line x1="370.30" y1="313.56" x2="372.70" y2="313.56" stroke="#000" stroke-width="0.9"/>
<text x="370.30" y="314.86" font-size="7.0" text-anchor="end" textLength="13.00" lengthAdjust="spacingAndGlyphs">3000</text>
<line x1="370.30" y1="297.74" x2="372.70" y2="297.74" stroke="#000" stroke-width="0.9"/>
<text x="370.30" y="299.04" font-size="7.0" text-anchor="end" textLength="13.00" lengthAdjust="spacingAndGlyphs">4000</text>
<line x1="370.30" y1="281.93" x2="372.70" y2="281.93" stroke="#000" stroke-width="0.9"/>
<text x="370.30" y="283.23" font-size="7.0" text-anchor="end" textLength="13.00" lengthAdjust="spacingAndGlyphs">5000</text>
<line x1="370.30" y1="266.11" x2="372.70" y2="266.11" stroke="#000" stroke-width="0.9"/>
<text x="370.30" y="267.41" font-size="7.0" text-anchor="end" textLength="13.00" lengthAdjust="spacingAndGlyphs">6000</text>
<line x1="370.30" y1="250.30" x2="372.70" y2="250.30" stroke="#000" stroke-width="0.9"/>
<text x="370.30" y="251.60" font-size="7.0" text-anchor="end" textLength="13.00" lengthAdjust="spacingAndGlyphs">7000</text>
<line x1="386.90" y1="361.00" x2="386.90" y2="362.80" stroke="#000" stroke-width="0.9"/>
<text x="386.90" y="368.10" font-size="6.0" text-anchor="middle">1</text>
<line x1="416.00" y1="361.00" x2="416.00" y2="362.80" stroke="#000" stroke-width="0.9"/>
<text x="416.00" y="368.10" font-size="6.0" text-anchor="middle">2</text>
<line x1="445.20" y1="361.00" x2="445.20" y2="362.80" stroke="#000" stroke-width="0.9"/>
<text x="445.20" y="368.10" font-size="6.0" text-anchor="middle">4</text>
<line x1="474.30" y1="361.00" x2="474.30" y2="362.80" stroke="#000" stroke-width="0.9"/>
<text x="474.30" y="368.10" font-size="6.0" text-anchor="middle">8</text>
<line x1="503.50" y1="361.00" x2="503.50" y2="362.80" stroke="#000" stroke-width="0.9"/>
<text x="503.50" y="368.10" font-size="6.0" text-anchor="middle">16</text>
<line x1="401.45" y1="361.00" x2="401.45" y2="362.50" stroke="#000" stroke-width="0.8"/>
<line x1="430.60" y1="361.00" x2="430.60" y2="362.50" stroke="#000" stroke-width="0.8"/>
<line x1="459.75" y1="361.00" x2="459.75" y2="362.50" stroke="#000" stroke-width="0.8"/>
<line x1="488.90" y1="361.00" x2="488.90" y2="362.50" stroke="#000" stroke-width="0.8"/>
<text x="401.70" y="377.00" font-size="8.8" font-weight="bold" textLength="92.10" lengthAdjust="spacingAndGlyphs">hours TRAP-stimulation</text>
<text transform="translate(353.60,303.10) rotate(-90)" font-size="8.8" font-weight="bold" text-anchor="middle" textLength="62.4" lengthAdjust="spacingAndGlyphs">MCP-1 (pg/mL)</text>
<text x="346.50" y="239.80" font-size="12.5" font-weight="bold">E</text>
<polyline points="386.90,358.80 416.00,357.00 445.20,356.70 474.30,355.40 503.50,353.80" fill="none" stroke="#000" stroke-width="1.1"/>
<line x1="386.90" y1="356.50" x2="386.90" y2="361.00" stroke="#000" stroke-width="0.9"/>
<line x1="384.70" y1="356.50" x2="389.10" y2="356.50" stroke="#000" stroke-width="1"/>
<line x1="384.70" y1="361.00" x2="389.10" y2="361.00" stroke="#000" stroke-width="1"/>
<line x1="445.20" y1="354.50" x2="445.20" y2="359.00" stroke="#000" stroke-width="0.9"/>
<line x1="443.00" y1="354.50" x2="447.40" y2="354.50" stroke="#000" stroke-width="1"/>
<line x1="443.00" y1="359.00" x2="447.40" y2="359.00" stroke="#000" stroke-width="1"/>
<line x1="474.30" y1="352.50" x2="474.30" y2="358.00" stroke="#000" stroke-width="0.9"/>
<line x1="472.10" y1="352.50" x2="476.50" y2="352.50" stroke="#000" stroke-width="1"/>
<line x1="472.10" y1="358.00" x2="476.50" y2="358.00" stroke="#000" stroke-width="1"/>
<line x1="503.50" y1="350.50" x2="503.50" y2="357.00" stroke="#000" stroke-width="0.9"/>
<line x1="501.30" y1="350.50" x2="505.70" y2="350.50" stroke="#000" stroke-width="1"/>
<line x1="501.30" y1="357.00" x2="505.70" y2="357.00" stroke="#000" stroke-width="1"/>
<rect x="384.70" y="356.60" width="4.40" height="4.40" fill="#000"/>
<rect x="413.80" y="354.80" width="4.40" height="4.40" fill="#000"/>
<rect x="443.00" y="354.50" width="4.40" height="4.40" fill="#000"/>
<rect x="472.10" y="353.20" width="4.40" height="4.40" fill="#000"/>
<rect x="501.30" y="351.60" width="4.40" height="4.40" fill="#000"/>
<polyline points="386.90,357.50 416.00,314.50 445.20,282.20 474.30,266.40 503.50,262.40" fill="none" stroke="#000" stroke-width="1.1"/>
<line x1="386.90" y1="353.50" x2="386.90" y2="360.50" stroke="#000" stroke-width="0.9"/>
<line x1="384.70" y1="353.50" x2="389.10" y2="353.50" stroke="#000" stroke-width="1"/>
<line x1="384.70" y1="360.50" x2="389.10" y2="360.50" stroke="#000" stroke-width="1"/>
<line x1="416.00" y1="311.20" x2="416.00" y2="319.20" stroke="#000" stroke-width="0.9"/>
<line x1="413.80" y1="311.20" x2="418.20" y2="311.20" stroke="#000" stroke-width="1"/>
<line x1="413.80" y1="319.20" x2="418.20" y2="319.20" stroke="#000" stroke-width="1"/>
<line x1="445.20" y1="277.50" x2="445.20" y2="287.00" stroke="#000" stroke-width="0.9"/>
<line x1="443.00" y1="277.50" x2="447.40" y2="277.50" stroke="#000" stroke-width="1"/>
<line x1="443.00" y1="287.00" x2="447.40" y2="287.00" stroke="#000" stroke-width="1"/>
<line x1="474.30" y1="259.80" x2="474.30" y2="271.10" stroke="#000" stroke-width="0.9"/>
<line x1="472.10" y1="259.80" x2="476.50" y2="259.80" stroke="#000" stroke-width="1"/>
<line x1="472.10" y1="271.10" x2="476.50" y2="271.10" stroke="#000" stroke-width="1"/>
<line x1="503.50" y1="255.80" x2="503.50" y2="269.00" stroke="#000" stroke-width="0.9"/>
<line x1="501.30" y1="255.80" x2="505.70" y2="255.80" stroke="#000" stroke-width="1"/>
<line x1="501.30" y1="269.00" x2="505.70" y2="269.00" stroke="#000" stroke-width="1"/>
<circle cx="386.90" cy="357.50" r="2.30" fill="#000"/>
<circle cx="416.00" cy="314.50" r="2.30" fill="#000"/>
<circle cx="445.20" cy="282.20" r="2.30" fill="#000"/>
<circle cx="474.30" cy="266.40" r="2.30" fill="#000"/>
<circle cx="503.50" cy="262.40" r="2.30" fill="#000"/>
<polyline points="386.90,356.50 416.00,348.00 445.20,337.50 474.30,321.30 503.50,298.60" fill="none" stroke="#000" stroke-width="1.1"/>
<line x1="386.90" y1="352.60" x2="386.90" y2="360.50" stroke="#000" stroke-width="0.9"/>
<line x1="384.70" y1="352.60" x2="389.10" y2="352.60" stroke="#000" stroke-width="1"/>
<line x1="384.70" y1="360.50" x2="389.10" y2="360.50" stroke="#000" stroke-width="1"/>
<line x1="416.00" y1="343.20" x2="416.00" y2="354.00" stroke="#000" stroke-width="0.9"/>
<line x1="413.80" y1="343.20" x2="418.20" y2="343.20" stroke="#000" stroke-width="1"/>
<line x1="413.80" y1="354.00" x2="418.20" y2="354.00" stroke="#000" stroke-width="1"/>
<line x1="445.20" y1="332.50" x2="445.20" y2="343.70" stroke="#000" stroke-width="0.9"/>
<line x1="443.00" y1="332.50" x2="447.40" y2="332.50" stroke="#000" stroke-width="1"/>
<line x1="443.00" y1="343.70" x2="447.40" y2="343.70" stroke="#000" stroke-width="1"/>
<line x1="474.30" y1="315.20" x2="474.30" y2="327.10" stroke="#000" stroke-width="0.9"/>
<line x1="472.10" y1="315.20" x2="476.50" y2="315.20" stroke="#000" stroke-width="1"/>
<line x1="472.10" y1="327.10" x2="476.50" y2="327.10" stroke="#000" stroke-width="1"/>
<line x1="503.50" y1="288.80" x2="503.50" y2="306.00" stroke="#000" stroke-width="0.9"/>
<line x1="501.30" y1="288.80" x2="505.70" y2="288.80" stroke="#000" stroke-width="1"/>
<line x1="501.30" y1="306.00" x2="505.70" y2="306.00" stroke="#000" stroke-width="1"/>
<path d="M386.90,353.90 L389.50,358.30 L384.30,358.30Z" fill="#000"/>
<path d="M416.00,345.40 L418.60,349.80 L413.40,349.80Z" fill="#000"/>
<path d="M445.20,334.90 L447.80,339.30 L442.60,339.30Z" fill="#000"/>
<path d="M474.30,318.70 L476.90,323.10 L471.70,323.10Z" fill="#000"/>
<path d="M503.50,296.00 L506.10,300.40 L500.90,300.40Z" fill="#000"/>
<polyline points="386.90,357.50 416.00,352.00 445.20,338.50 474.30,322.00 503.50,304.60" fill="none" stroke="#000" stroke-width="1.1"/>
<line x1="503.50" y1="300.00" x2="503.50" y2="311.20" stroke="#000" stroke-width="0.9"/>
<line x1="501.30" y1="300.00" x2="505.70" y2="300.00" stroke="#000" stroke-width="1"/>
<line x1="501.30" y1="311.20" x2="505.70" y2="311.20" stroke="#000" stroke-width="1"/>
<path d="M386.90,355.70 L388.70,357.50 L386.90,359.30 L385.10,357.50Z" fill="#000"/>
<path d="M416.00,350.20 L417.80,352.00 L416.00,353.80 L414.20,352.00Z" fill="#000"/>
<path d="M445.20,336.70 L447.00,338.50 L445.20,340.30 L443.40,338.50Z" fill="#000"/>
<path d="M474.30,320.20 L476.10,322.00 L474.30,323.80 L472.50,322.00Z" fill="#000"/>
<path d="M503.50,302.80 L505.30,304.60 L503.50,306.40 L501.70,304.60Z" fill="#000"/>
<line x1="375.70" y1="252.40" x2="388.40" y2="252.40" stroke="#000" stroke-width="1"/>
<rect x="379.74" y="250.09" width="4.62" height="4.62" fill="#000"/>
<text x="393.00" y="254.70" font-size="7.0" textLength="33.78" lengthAdjust="spacingAndGlyphs">VSMC+SFM</text>
<line x1="375.70" y1="263.97" x2="388.40" y2="263.97" stroke="#000" stroke-width="1"/>
<circle cx="382.05" cy="263.97" r="2.42" fill="#000"/>
<text x="393.00" y="266.27" font-size="7.0" textLength="37.15" lengthAdjust="spacingAndGlyphs">VSMC+TRAP</text>
<line x1="375.70" y1="275.54" x2="388.40" y2="275.54" stroke="#000" stroke-width="1"/>
<path d="M382.05,272.81 L384.78,277.43 L379.32,277.43Z" fill="#000"/>
<text x="393.00" y="277.84" font-size="7.0" textLength="41.86" lengthAdjust="spacingAndGlyphs">Ad5lacZ+TRAP</text>
<line x1="375.70" y1="287.11" x2="388.40" y2="287.11" stroke="#000" stroke-width="1"/>
<path d="M382.05,285.22 L383.94,287.11 L382.05,289.00 L380.16,287.11Z" fill="#000"/>
<text x="393.00" y="289.41" font-size="7.0" textLength="43.54" lengthAdjust="spacingAndGlyphs">Ad5TFPI+TRAP</text>
</svg></body></html>
